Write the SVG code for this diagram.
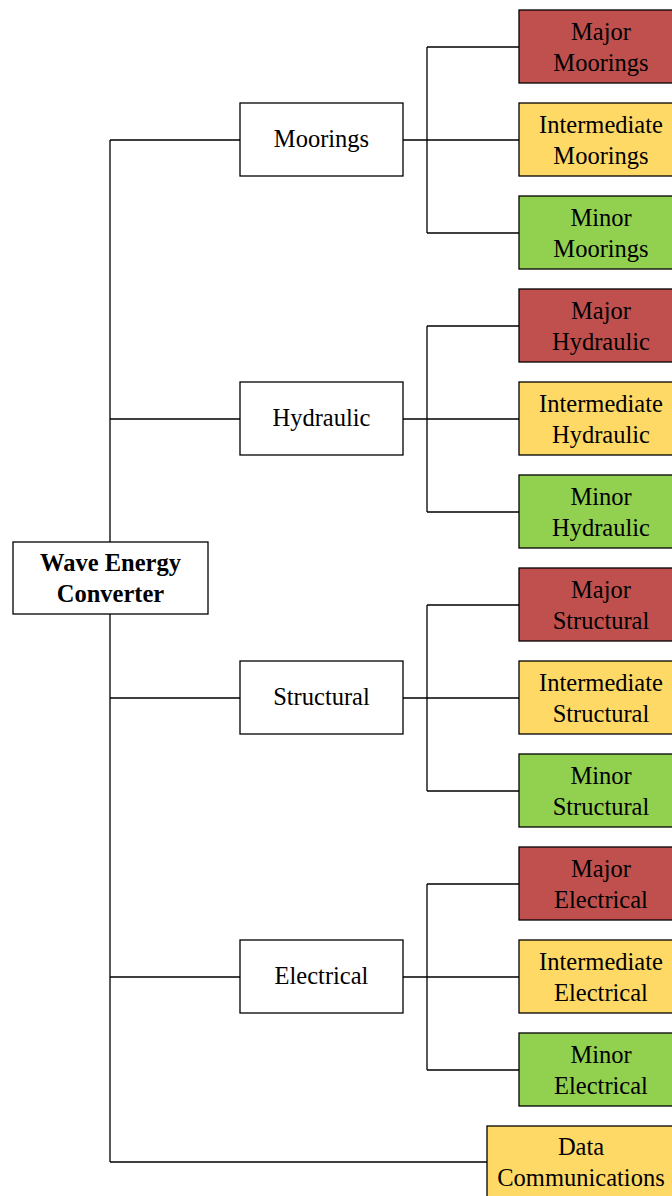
<svg xmlns="http://www.w3.org/2000/svg" width="672" height="1196" viewBox="0 0 672 1196">
  <style>
    .box { stroke: #000; stroke-width: 1.3; }
    .plain { fill: #fff; }
    .major { fill: #C0504D; }
    .inter { fill: #FFD966; }
    .minor { fill: #92D050; }
    .wire { fill: none; stroke: #000; stroke-width: 1.3; }
    text { font-family: "Liberation Serif", "Times New Roman", serif; font-size: 24.5px; fill: #000; text-anchor: middle; }
    .bold { font-weight: bold; }
  </style>

  <rect width="672" height="1196" fill="#fff"/>

  <!-- connectors -->
  <g id="connectors" class="wire">
    <path d="M110 140 V542 M110 614 V1162"/>
    <path d="M110 140 H240 M110 419 H240 M110 698 H240 M110 977 H240 M110 1162 H487"/>
    <!-- Moorings branch -->
    <path d="M403 140 H519 M427 47 V233 M427 47 H519 M427 233 H519"/>
    <!-- Hydraulic branch -->
    <path d="M403 419 H519 M427 326 V512 M427 326 H519 M427 512 H519"/>
    <!-- Structural branch -->
    <path d="M403 698 H519 M427 605 V791 M427 605 H519 M427 791 H519"/>
    <!-- Electrical branch -->
    <path d="M403 977 H519 M427 884 V1070 M427 884 H519 M427 1070 H519"/>
  </g>

  <!-- root -->
  <g id="wave-energy-converter">
    <rect class="box plain" x="13" y="542" width="195" height="72"/>
    <text class="bold" x="110.5" y="571">Wave Energy</text>
    <text class="bold" x="110.5" y="602">Converter</text>
  </g>

  <!-- subsystems -->
  <g id="moorings">
    <rect class="box plain" x="240" y="103" width="163" height="73"/>
    <text x="321.5" y="147">Moorings</text>
  </g>
  <g id="hydraulic">
    <rect class="box plain" x="240" y="382" width="163" height="73"/>
    <text x="321.5" y="426">Hydraulic</text>
  </g>
  <g id="structural">
    <rect class="box plain" x="240" y="661" width="163" height="73"/>
    <text x="321.5" y="705">Structural</text>
  </g>
  <g id="electrical">
    <rect class="box plain" x="240" y="940" width="163" height="73"/>
    <text x="321.5" y="984">Electrical</text>
  </g>

  <!-- Moorings failures -->
  <g id="major-moorings">
    <rect class="box major" x="519" y="10" width="164" height="73"/>
    <text x="601" y="40">Major</text>
    <text x="601" y="71">Moorings</text>
  </g>
  <g id="intermediate-moorings">
    <rect class="box inter" x="519" y="103" width="164" height="73"/>
    <text x="601" y="133">Intermediate</text>
    <text x="601" y="164">Moorings</text>
  </g>
  <g id="minor-moorings">
    <rect class="box minor" x="519" y="196" width="164" height="73"/>
    <text x="601" y="226">Minor</text>
    <text x="601" y="257">Moorings</text>
  </g>

  <!-- Hydraulic failures -->
  <g id="major-hydraulic">
    <rect class="box major" x="519" y="289" width="164" height="73"/>
    <text x="601" y="319">Major</text>
    <text x="601" y="350">Hydraulic</text>
  </g>
  <g id="intermediate-hydraulic">
    <rect class="box inter" x="519" y="382" width="164" height="73"/>
    <text x="601" y="412">Intermediate</text>
    <text x="601" y="443">Hydraulic</text>
  </g>
  <g id="minor-hydraulic">
    <rect class="box minor" x="519" y="475" width="164" height="73"/>
    <text x="601" y="505">Minor</text>
    <text x="601" y="536">Hydraulic</text>
  </g>

  <!-- Structural failures -->
  <g id="major-structural">
    <rect class="box major" x="519" y="568" width="164" height="73"/>
    <text x="601" y="598">Major</text>
    <text x="601" y="629">Structural</text>
  </g>
  <g id="intermediate-structural">
    <rect class="box inter" x="519" y="661" width="164" height="73"/>
    <text x="601" y="691">Intermediate</text>
    <text x="601" y="722">Structural</text>
  </g>
  <g id="minor-structural">
    <rect class="box minor" x="519" y="754" width="164" height="73"/>
    <text x="601" y="784">Minor</text>
    <text x="601" y="815">Structural</text>
  </g>

  <!-- Electrical failures -->
  <g id="major-electrical">
    <rect class="box major" x="519" y="847" width="164" height="73"/>
    <text x="601" y="877">Major</text>
    <text x="601" y="908">Electrical</text>
  </g>
  <g id="intermediate-electrical">
    <rect class="box inter" x="519" y="940" width="164" height="73"/>
    <text x="601" y="970">Intermediate</text>
    <text x="601" y="1001">Electrical</text>
  </g>
  <g id="minor-electrical">
    <rect class="box minor" x="519" y="1033" width="164" height="73"/>
    <text x="601" y="1063">Minor</text>
    <text x="601" y="1094">Electrical</text>
  </g>

  <!-- data link -->
  <g id="data-communications">
    <rect class="box inter" x="487" y="1126" width="188" height="73"/>
    <text x="581" y="1155">Data</text>
    <text x="581" y="1186">Communications</text>
  </g>
</svg>
